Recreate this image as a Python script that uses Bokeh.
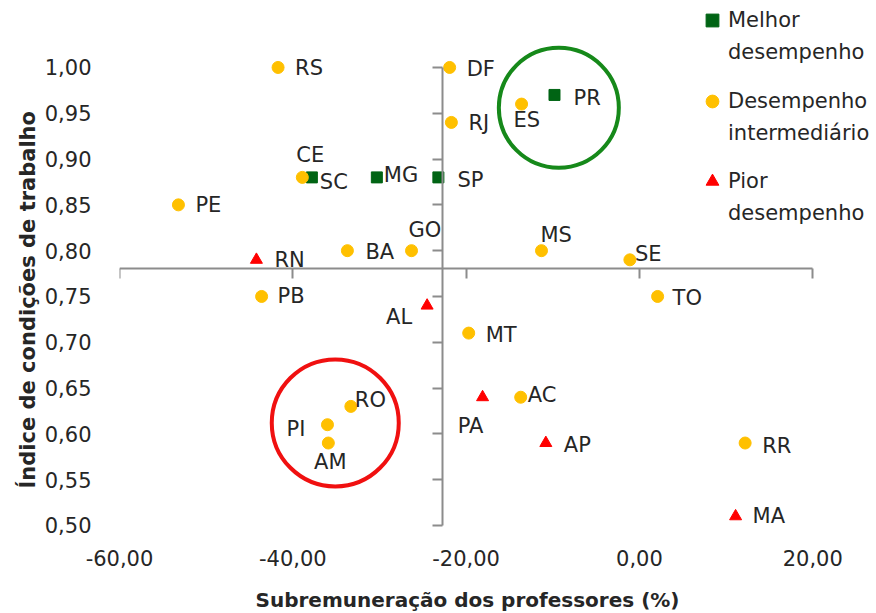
from bokeh.plotting import figure
from bokeh.models import (ColumnDataSource, Range1d, LinearAxis, FixedTicker,
                          Legend, LegendItem, Title)
from bokeh.core.properties import value
from bokeh.embed import file_html
from bokeh.resources import INLINE

# ---------------- data ----------------
MELHOR_UF = ["PR", "SC", "MG", "SP"]
MELHOR_X = [-9.8, -37.8, -30.3, -23.2]
MELHOR_Y = [0.97, 0.88, 0.88, 0.88]

INTER_UF = ["RS", "DF", "ES", "RJ", "CE", "PE", "BA", "GO", "MS", "SE",
            "TO", "PB", "MT", "RO", "PI", "AM", "AC", "RR"]
INTER_X = [-41.7, -21.9, -13.6, -21.7, -38.9, -53.2, -33.7, -26.3, -11.3, -1.1,
           2.1, -43.6, -19.7, -33.3, -36.0, -35.9, -13.7, 12.2]
INTER_Y = [1.00, 1.00, 0.96, 0.94, 0.88, 0.85, 0.80, 0.80, 0.80, 0.79,
           0.75, 0.75, 0.71, 0.63, 0.61, 0.59, 0.64, 0.59]

PIOR_UF = ["RN", "AL", "PA", "AP", "MA"]
PIOR_X = [-44.2, -24.5, -18.1, -10.8, 11.1]
PIOR_Y = [0.79, 0.74, 0.64, 0.59, 0.51]

X_TICKS = [-60, -40, -20, 0, 20]
X_TICK_LABELS = ["-60,00", "-40,00", "-20,00", "0,00", "20,00"]
Y_TICKS = [0.50, 0.55, 0.60, 0.65, 0.70, 0.75, 0.80, 0.85, 0.90, 0.95, 1.00]
Y_TICK_LABELS = ["0,50", "0,55", "0,60", "0,65", "0,70", "0,75", "0,80",
                 "0,85", "0,90", "0,95", "1,00"]

X_TITLE = "Subremuneração dos professores (%)"
Y_TITLE = "Índice de condições de trabalho"
LEGEND_LINES = [("Melhor", "desempenho"),
                ("Desempenho", "intermediário"),
                ("Pior", "desempenho")]

# where the two axis lines cross
X_CROSS = -22.7
Y_CROSS = 0.78

# highlight rings (centre points)
RING_GREEN = (-9.3, 0.956)
RING_RED = (-35.1, 0.612)

# ---------------- styles / layout ----------------
FONT = "DejaVu Sans"
TXT = "#262626"
GREEN = "#006414"
GOLD = "#FFC000"
RED = "#FF0000"
AXIS_GREY = "#8c8c8c"

W, H = 876, 613
BORDER_L, BORDER_B = 119, 72
X_MIN, X_MAX = -60, 27.36
Y_MIN, Y_MAX = 0.4825, 1.0731

# label offsets (x px, y px downwards, align)
LABEL_POS = {
    "RS": (17, 1, "left"), "DF": (17, 2, "left"), "PR": (19, 3, "left"),
    "ES": (-8, 16, "left"), "RJ": (17, 1, "left"), "SP": (19, 3, "left"),
    "MG": (7, -2, "left"), "SC": (8, 5, "left"), "CE": (-6, -22, "left"),
    "PE": (17, 0, "left"), "BA": (18, 1, "left"), "GO": (-3, -21, "left"),
    "MS": (-1, -16, "left"), "SE": (5, -6, "left"), "TO": (15, 2, "left"),
    "RN": (18, 0, "left"), "PB": (16, 0, "left"), "AL": (-15, 11, "right"),
    "RO": (4, -6, "left"), "PI": (-22, 4, "right"), "AM": (2, 19, "center"),
    "MT": (17, 2, "left"), "PA": (-12, 29, "center"), "AC": (7, -2, "left"),
    "AP": (18, 2, "left"), "RR": (17, 3, "left"), "MA": (17, 0, "left"),
}

p = figure(width=W, height=H,
           x_range=Range1d(X_MIN, X_MAX), y_range=Range1d(Y_MIN, Y_MAX),
           output_backend="svg", toolbar_location=None,
           x_axis_location=None, y_axis_location=None,
           min_border_left=BORDER_L, min_border_right=0,
           min_border_top=0, min_border_bottom=BORDER_B)
p.outline_line_color = None
p.background_fill_color = "white"
p.border_fill_color = "white"
p.grid.visible = False

# ---- tick-label axes (text only) ----
xlab = LinearAxis(ticker=FixedTicker(ticks=X_TICKS),
                  major_label_overrides=dict(zip(X_TICKS, X_TICK_LABELS)),
                  axis_line_color=None, major_tick_line_color=None,
                  minor_tick_line_color=None, major_tick_out=0, major_tick_in=0,
                  major_label_standoff=8,
                  major_label_text_font=FONT, major_label_text_font_size="21px",
                  major_label_text_color=TXT)
p.add_layout(xlab, "below")

ylab = LinearAxis(ticker=FixedTicker(ticks=Y_TICKS),
                  major_label_overrides=dict(zip(Y_TICKS, Y_TICK_LABELS)),
                  axis_line_color=None, major_tick_line_color=None,
                  minor_tick_line_color=None, major_tick_out=0, major_tick_in=0,
                  major_label_standoff=28,
                  major_label_text_font=FONT, major_label_text_font_size="21px",
                  major_label_text_color=TXT)
p.add_layout(ylab, "left")

# ---- crossing axis lines with ticks ----
xcross = LinearAxis(ticker=FixedTicker(ticks=X_TICKS), fixed_location=Y_CROSS,
                    bounds=(X_TICKS[0], X_TICKS[-1]),
                    axis_line_color=AXIS_GREY, axis_line_width=2,
                    major_tick_line_color=AXIS_GREY, major_tick_line_width=2,
                    major_tick_out=10, major_tick_in=0,
                    minor_tick_line_color=None,
                    major_label_text_color=None, major_label_text_font_size="1px")
p.add_layout(xcross, "below")

ycross = LinearAxis(ticker=FixedTicker(ticks=Y_TICKS), fixed_location=X_CROSS,
                    bounds=(Y_TICKS[0], Y_TICKS[-1]),
                    axis_line_color=AXIS_GREY, axis_line_width=2,
                    major_tick_line_color=AXIS_GREY, major_tick_line_width=2,
                    major_tick_out=10, major_tick_in=0,
                    minor_tick_line_color=None,
                    major_label_text_color=None, major_label_text_font_size="1px")
p.add_layout(ycross, "left")

# invisible spacer between tick labels and x title
spacer = LinearAxis(ticker=FixedTicker(ticks=[X_TICKS[0]]), axis_line_color=None,
                    major_tick_line_color=None, minor_tick_line_color=None,
                    major_tick_out=17, major_tick_in=0, major_label_standoff=0,
                    major_label_text_color=None, major_label_text_font_size="1px")
p.add_layout(spacer, "below")

# ---- axis titles ----
p.add_layout(Title(text=X_TITLE, align="left", offset=136,
                   vertical_align="middle", standoff=2,
                   text_font=FONT, text_font_size="20px",
                   text_font_style="bold", text_color=TXT), "below")
p.add_layout(Title(text=Y_TITLE, align="left", offset=53,
                   vertical_align="middle", standoff=2,
                   text_font=FONT, text_font_size="21px",
                   text_font_style="bold", text_color=TXT), "left")

# ---- highlight rings ----
p.ellipse(x=[RING_GREEN[0]], y=[RING_GREEN[1]], width=120, height=120,
          width_units="screen", height_units="screen",
          fill_color=None, line_color="#16891a", line_width=4)
p.ellipse(x=[RING_RED[0]], y=[RING_RED[1]], width=127, height=127,
          width_units="screen", height_units="screen",
          fill_color=None, line_color="#f01010", line_width=4)

# ---- points ----
src_m = ColumnDataSource(dict(x=MELHOR_X, y=MELHOR_Y, uf=MELHOR_UF))
src_i = ColumnDataSource(dict(x=INTER_X, y=INTER_Y, uf=INTER_UF))
src_p = ColumnDataSource(dict(x=PIOR_X, y=PIOR_Y, uf=PIOR_UF))

r_m = p.scatter("x", "y", source=src_m, marker="square", size=11,
                fill_color=GREEN, line_color=GREEN)
r_i = p.scatter("x", "y", source=src_i, marker="circle", size=12,
                fill_color=GOLD, line_color=GOLD)
r_p = p.scatter("x", "y", source=src_p, marker="triangle", size=12,
                fill_color=RED, line_color=RED)

# ---- point labels ----
all_uf = MELHOR_UF + INTER_UF + PIOR_UF
all_x = MELHOR_X + INTER_X + PIOR_X
all_y = MELHOR_Y + INTER_Y + PIOR_Y
lab_src = ColumnDataSource(dict(
    x=all_x, y=all_y, text=all_uf,
    xo=[LABEL_POS[u][0] for u in all_uf],
    yo=[LABEL_POS[u][1] for u in all_uf],
    al=[LABEL_POS[u][2] for u in all_uf]))
p.text("x", "y", text="text", source=lab_src, x_offset="xo", y_offset="yo",
       text_align="al", text_baseline="middle",
       text_font=value(FONT), text_font_size="21px", text_color=TXT)

# ---- legends (three blocks, two lines each) ----
frame_bottom_px = H - BORDER_B
legend_bottoms = [68, 149, 229]   # screen px from top of figure
for (l1, l2), rend, yb in zip(LEGEND_LINES, [r_m, r_i, r_p], legend_bottoms):
    leg = Legend(items=[LegendItem(label=l1, renderers=[rend]),
                        LegendItem(label=l2, renderers=[])],
                 location=(696 - BORDER_L, frame_bottom_px - yb),
                 orientation="vertical",
                 padding=0, margin=0, spacing=-2,
                 glyph_width=32, glyph_height=32, label_standoff=0,
                 label_height=20,
                 label_text_font=FONT, label_text_font_size="21px",
                 label_text_color=TXT,
                 background_fill_alpha=0, border_line_color=None)
    p.add_layout(leg)

open("out.html", "w").write(file_html(p, INLINE))
